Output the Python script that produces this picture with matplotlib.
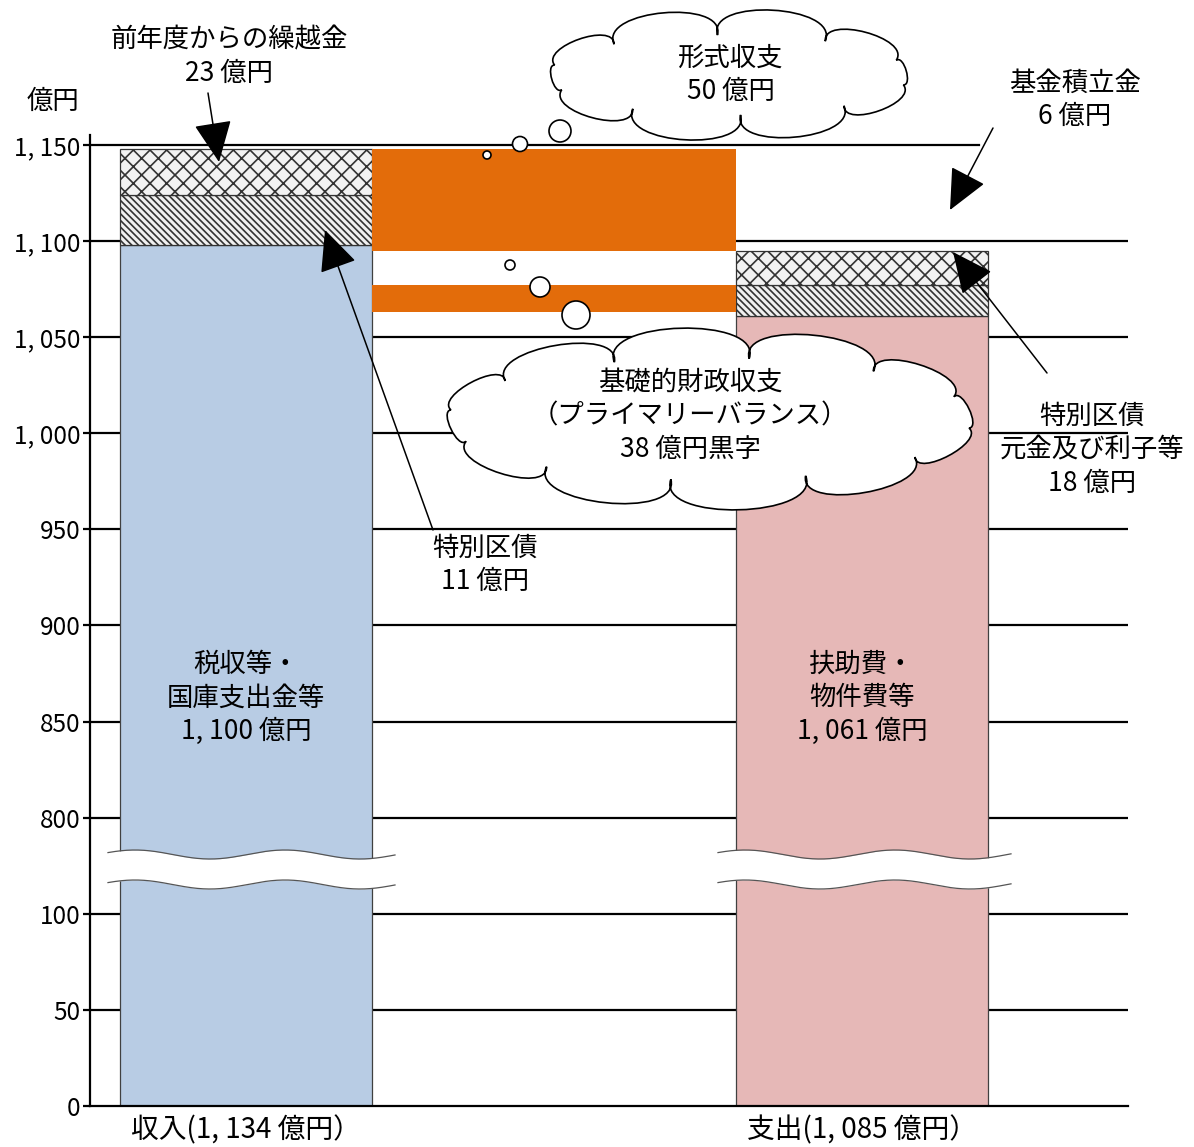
import numpy as np
import matplotlib
matplotlib.use('Agg')
import matplotlib.pyplot as plt
from matplotlib.path import Path
from matplotlib.patches import PathPatch, Circle

plt.rcParams['font.family'] = ['Noto Sans CJK JP', 'DejaVu Sans']
plt.rcParams['hatch.linewidth'] = 1.2

# ---------------- data ----------------
categories = ['収入(1, 134 億円）', '支出(1, 085 億円）']
revenue_names = ['税収等・国庫支出金等', '特別区債', '前年度からの繰越金']
revenue_values = [1098, 26, 24]
expenditure_names = ['扶助費・物件費等', '特別区債元金及び利子等', '基金積立金']
expenditure_values = [1061, 16, 18]
surplus_blocks = [(1095, 1148), (1063, 1077)]   # (bottom, top) of orange blocks
y_ticks = [0, 50, 100, 800, 850, 900, 950, 1000, 1050, 1100, 1150]
y_ticklabels = ['0', '50', '100', '800', '850', '900', '950',
                '1, 000', '1, 050', '1, 100', '1, 150']

# broken axis: 100..800 squeezed into one 50-step
def fwd(v):
    v = np.asarray(v, float)
    return np.where(v <= 100, v, np.where(v >= 800, v - 650, 100 + (v - 100) * 50 / 700))

def inv(d):
    d = np.asarray(d, float)
    return np.where(d <= 100, d, np.where(d >= 150, d + 650, 100 + (d - 100) * 14))

W, H = 1194, 1147
fig = plt.figure(figsize=(W / 100, H / 100), dpi=100)
ax = fig.add_axes([90 / W, (H - 1106) / H, 1038 / W, (1106 - 135) / H])
ax.set_yscale('function', functions=(fwd, inv))
ax.set_ylim(0, 1155.2)
ax.set_xlim(-0.2532, 1.4318)

bar_w = 0.409
seg_styles = [
    None,
    dict(facecolor='#f0f0f0', hatch='\\' * 5, edgecolor='#333333'),
    dict(facecolor='#f2f2f2', hatch='xx', edgecolor='#333333'),
]
base_colors = ['#B8CCE4', '#E6B8B7']
for xi, vals, bc in zip([0, 1], [revenue_values, expenditure_values], base_colors):
    bottom = 0
    for k, v in enumerate(vals):
        if k == 0:
            ax.bar(xi, v, bottom=bottom, width=bar_w, color=bc, edgecolor='#404040',
                   linewidth=0.9, zorder=2)
        else:
            ax.bar(xi, v, bottom=bottom, width=bar_w, linewidth=0.9, zorder=2, **seg_styles[k])
        bottom += v

for lo, hi in surplus_blocks:
    ax.bar(0.5, hi - lo, bottom=lo, width=1 - bar_w, color='#E36C0A', edgecolor='none', zorder=2)

for t in y_ticks[1:]:
    ax.axhline(t, xmin=0, xmax=(0.856 if t == 1150 else 1), color='black', lw=1.6, zorder=0.5)

ax.set_yticks(y_ticks)
ax.set_yticklabels(y_ticklabels)
ax.yaxis.set_minor_locator(matplotlib.ticker.NullLocator())
ax.set_xticks([0, 1])
ax.set_xticklabels(categories)
for s in ['top', 'right']:
    ax.spines[s].set_visible(False)
for s in ['left', 'bottom']:
    ax.spines[s].set_linewidth(1.6)
ax.tick_params(axis='y', length=5, width=1.6, direction='out', pad=2, labelsize=17.5)
ax.tick_params(axis='x', length=0, pad=7, labelsize=20)

# ---------------- overlay (pixel coordinates) ----------------
ov = fig.add_axes([0, 0, 1, 1], zorder=5)
ov.set_xlim(0, W)
ov.set_ylim(H, 0)
ov.axis('off')
ov.patch.set_visible(False)

# break bands
for x0, wlen in [(108, 287), (718, 293)]:
    xs = np.linspace(x0, x0 + wlen, 200)
    ytop = 854.5 - 4.5 * np.cos(2 * np.pi * (xs - x0 - 27) / 150)
    ybot = ytop + 30
    ov.fill_between(xs, ytop, ybot, color='white', lw=0, zorder=1)
    ov.plot(xs, ytop, color='#555555', lw=0.9, zorder=2)
    ov.plot(xs, ybot, color='#555555', lw=0.9, zorder=2)


def cloud(cx, cy, rx, ry, n, k=0.3, phase=0.0):
    ang = np.linspace(0, 2 * np.pi, n + 1) + phase
    pts = np.c_[cx + rx * np.cos(ang), cy + ry * np.sin(ang)]
    verts = [tuple(pts[0])]
    codes = [Path.MOVETO]
    for i in range(n):
        p0, p1 = pts[i], pts[i + 1]
        am = 0.5 * (ang[i] + ang[i + 1])
        nrm = np.array([np.cos(am) / rx, np.sin(am) / ry])
        nrm /= np.linalg.norm(nrm)
        L = np.linalg.norm(p1 - p0)
        d = (p1 - p0) / L
        c0 = p0 + nrm * k * L * 1.33 - d * 0.12 * L
        c1 = p1 + nrm * k * L * 1.33 + d * 0.12 * L
        verts += [tuple(c0), tuple(c1), tuple(p1)]
        codes += [Path.CURVE4] * 3
    verts.append(tuple(pts[0]))
    codes.append(Path.CLOSEPOLY)
    ov.add_patch(PathPatch(Path(verts, codes), facecolor='white', edgecolor='black',
                           lw=1.2, zorder=3))


cloud(729, 75, 180, 40, 10, k=0.26, phase=0.25)
for (x, y, r) in [(487, 155, 4), (520, 144, 7.5), (560, 131, 11)]:
    ov.add_patch(Circle((x, y), r, facecolor='white', edgecolor='black', lw=1.2, zorder=3))

cloud(710, 419, 262, 61, 12, k=0.24, phase=0.15)
for (x, y, r) in [(510, 265, 5), (540, 287, 10), (576, 315, 14)]:
    ov.add_patch(Circle((x, y), r, facecolor='white', edgecolor='black', lw=1.2, zorder=3))

fs = 19
ls = 1.3
txt = dict(ha='center', va='center', fontsize=fs, linespacing=ls, zorder=6)
ov.text(53, 101, '億円', **txt)
ov.text(229, 57, '前年度からの繰越金\n23 億円', **txt)
ov.text(731, 75, '形式収支\n50 億円', **txt)
ov.text(1075, 100, '基金積立金\n6 億円', **txt)
ov.text(485, 565, '特別区債\n11 億円', **txt)
ov.text(1092, 450, '特別区債\n元金及び利子等\n18 億円', **txt)
ov.text(246, 698, '税収等・\n国庫支出金等\n1, 100 億円', **txt)
ov.text(862, 698, '扶助費・\n物件費等\n1, 061 億円', **txt)
ov.text(690, 416, '基礎的財政収支\n（プライマリーバランス）\n38 億円黒字', **txt)

ap = dict(arrowstyle='-|>,head_length=1.3,head_width=0.6', color='black', lw=1.1,
          mutation_scale=20, shrinkA=0, shrinkB=0)
for tail, tip in [((208, 93), (219, 162)),
                  ((993, 128), (950, 210)),
                  ((433, 530), (325, 230)),
                  ((1047, 373), (953, 252))]:
    ov.annotate('', xy=tip, xytext=tail, arrowprops=ap, zorder=7)

fig.savefig('out.png', dpi=100)
